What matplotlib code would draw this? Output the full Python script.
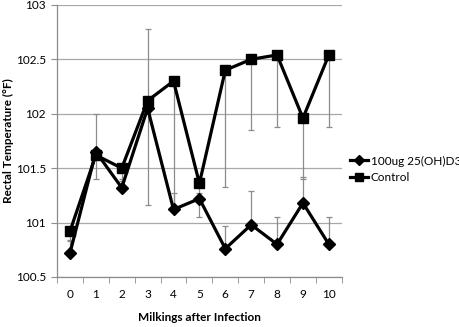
import numpy as np
import matplotlib
matplotlib.use("Agg")
import matplotlib.pyplot as plt

plt.rcParams['font.family'] = ['Lato', 'DejaVu Sans']

milkings = [0, 1, 2, 3, 4, 5, 6, 7, 8, 9, 10]
treat = [100.72, 101.65, 101.32, 102.05, 101.12, 101.22, 100.76, 100.98, 100.80, 101.18, 100.80]
treat_err_up = [0.12, 0.35, 0.08, 0.73, 0.15, 0.05, 0.21, 0.31, 0.25, 0.24, 0.25]
control = [100.92, 101.62, 101.50, 102.12, 102.30, 101.36, 102.40, 102.50, 102.54, 101.96, 102.54]
control_err_down = [0.09, 0.22, 0.12, 0.96, 1.18, 0.31, 1.07, 0.65, 0.66, 0.56, 0.66]
labels = ['100ug 25(OH)D3', 'Control']

fig = plt.figure(figsize=(4.6, 3.27), dpi=100)
ax = fig.add_axes([0.124, 0.153, 0.619, 0.832])

x = np.array(milkings)
grey = '#8c8c8c'
ax.errorbar(x, treat, yerr=[np.zeros(len(x)), treat_err_up], fmt='none',
            ecolor=grey, elinewidth=0.9, capsize=2.5, capthick=0.9, zorder=2)
ax.errorbar(x, control, yerr=[control_err_down, np.zeros(len(x))], fmt='none',
            ecolor=grey, elinewidth=0.9, capsize=2.5, capthick=0.9, zorder=2)
ax.plot(x, treat, color='black', lw=2.3, marker='D', ms=6.5, label=labels[0], zorder=3)
ax.plot(x, control, color='black', lw=2.3, marker='s', ms=7.5, label=labels[1], zorder=3)

ax.set_xlim(-0.5, 10.5)
ax.set_ylim(100.5, 103)
ax.set_yticks(np.arange(100.5, 103.01, 0.5))
ax.set_yticklabels(['100.5', '101', '101.5', '102', '102.5', '103'])
ax.set_xticks(x)
ax.set_xticks(np.arange(-0.5, 10.6, 1), minor=True)
ax.tick_params(axis='x', which='major', length=0, pad=9, labelsize=8.5)
ax.tick_params(axis='x', which='minor', length=4, color=grey, direction='out')
ax.tick_params(axis='y', length=4, color=grey, labelsize=8.5, pad=4)
ax.grid(axis='y', color='#a8a8a8', lw=0.9)
ax.set_axisbelow(True)
for s in ['top', 'right']:
    ax.spines[s].set_visible(False)
for s in ['left', 'bottom']:
    ax.spines[s].set_color(grey)
    ax.spines[s].set_linewidth(0.9)

ax.set_xlabel('Milkings after Infection', fontsize=8.5, fontweight='bold', labelpad=8)
ax.set_ylabel('Rectal Temperature (°F)', fontsize=8.5, fontweight='bold')
ax.yaxis.set_label_coords(-0.15, 0.5)

ax.legend(loc='center left', bbox_to_anchor=(0.99, 0.395), frameon=False, fontsize=8.5,
          handlelength=1.6, handletextpad=0.2, labelspacing=0.5, markerscale=0.75)

fig.savefig('out.png', dpi=100)
